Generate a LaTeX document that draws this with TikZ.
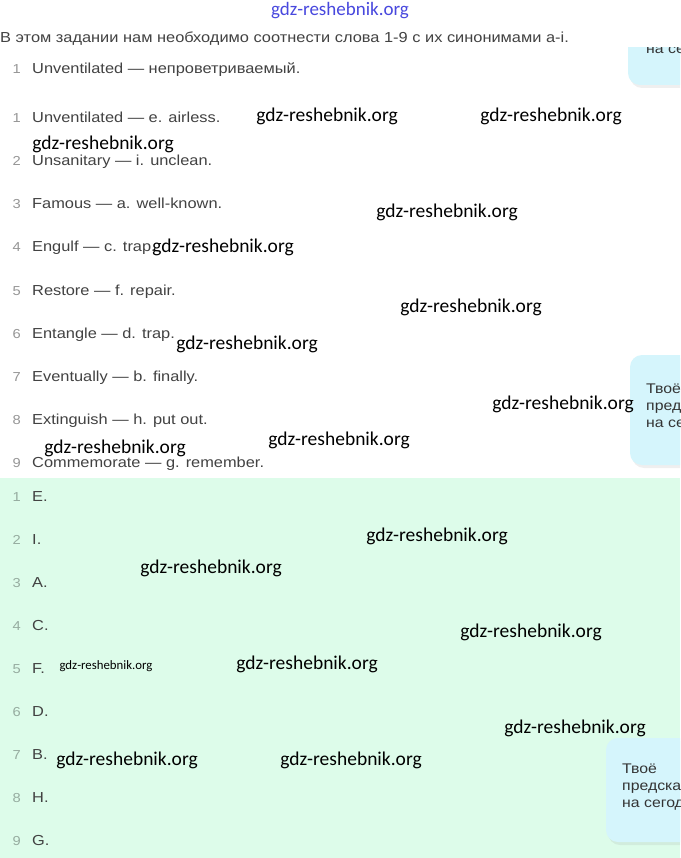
\documentclass[tikz,border=0pt]{standalone}
\usepackage{fontspec}
\setmainfont{Liberation Sans}[FakeStretch=1.13]
\newfontfamily\wmfont{Carlito}
\usetikzlibrary{shadows}
\definecolor{MintColor}{RGB}{221,252,234}
\definecolor{TipColor}{RGB}{213,245,252}
\definecolor{TextColor}{RGB}{66,66,66}
\definecolor{NumColor}{RGB}{150,150,150}
\definecolor{GreenNumColor}{RGB}{150,172,160}
\definecolor{LinkColor}{RGB}{72,72,222}
\tikzstyle{row} = [anchor=base west, inner sep=0pt, text=TextColor, font=\fontsize{14.5}{16}\selectfont]
\tikzstyle{num} = [anchor=base east, inner sep=0pt, text=NumColor, font=\fontsize{13}{16}\selectfont]
\tikzstyle{wmark} = [inner sep=0pt, text=black, font=\wmfont\fontsize{19.5}{21}\selectfont]
\tikzstyle{tip} = [fill=TipColor, rounded corners=12pt, drop shadow={opacity=0.12, shadow xshift=2pt, shadow yshift=-3pt}]
\tikzstyle{tiptext} = [anchor=north west, inner sep=0pt, align=left, text=black!80, font=\fontsize{14}{17}\selectfont]

\begin{document}
\begin{tikzpicture}[x=1pt, y=-1pt]
\clip (0,0) rectangle (680,858);
\fill[white] (0,0) rectangle (680,478);
\fill[MintColor] (0,478) rectangle (680,858);

% callouts at the right edge
\begin{scope}
  \clip (600,48) rectangle (680,110);
  \fill[tip] (628,10) rectangle (720,85);
  \node[tiptext] (tip1) at (646,46) {на сегодня};
\end{scope}
\fill[tip] (630,355) rectangle (720,465);
\node[tiptext] (tip2) at (646,384) {Твоё\\предсказание\\на сегодня};
\fill[tip] (606,738) rectangle (720,842);
\node[tiptext] (tip3) at (622,764) {Твоё\\предсказание\\на сегодня};

% text
\node[text=LinkColor, inner sep=0pt, font=\wmfont\fontsize{19}{20}\selectfont] (site) at (340,11) {gdz-reshebnik.org};
\node[row] (intro) at (0,43) {В этом задании нам необходимо соотнести слова 1-9 с их синонимами a-i.};
\node[num] (n0) at (21,74) {1};
\node[row] (r0) at (32,74) {Unventilated — непроветриваемый.};

\foreach \w [count=\i] in {Unventilated — e. airless., Unsanitary — i. unclean., Famous — a. well-known., Engulf — c. trap., Restore — f. repair., Entangle — d. trap., Eventually — b. finally., Extinguish — h. put out., Commemorate — g. remember.} {
  \node[num] (n\i) at (21,{80+43*\i}) {\i};
  \node[row] (r\i) at (32,{80+43*\i}) {\w};
}
\foreach \w [count=\i] in {E.,I.,A.,C.,F.,D.,B.,H.,G.} {
  \node[num, text=GreenNumColor] (m\i) at (21,{458+43*\i}) {\i};
  \node[row] (a\i) at (32,{458+43*\i}) {\w};
}

% watermarks
\foreach \x/\y [count=\k] in {327/116, 551/116, 103/144, 447/212, 223/247, 471/307, 247/344, 563/404, 339/440, 115/448, 437/536, 211/568, 531/632, 307/664, 575/728, 127/760, 351/760}
  \node[wmark] (wm\k) at (\x,\y) {gdz-reshebnik.org};
\node[wmark, font=\wmfont\fontsize{12.8}{14}\selectfont] (wmsmall) at (106,666) {gdz-reshebnik.org};
\end{tikzpicture}
\end{document}
